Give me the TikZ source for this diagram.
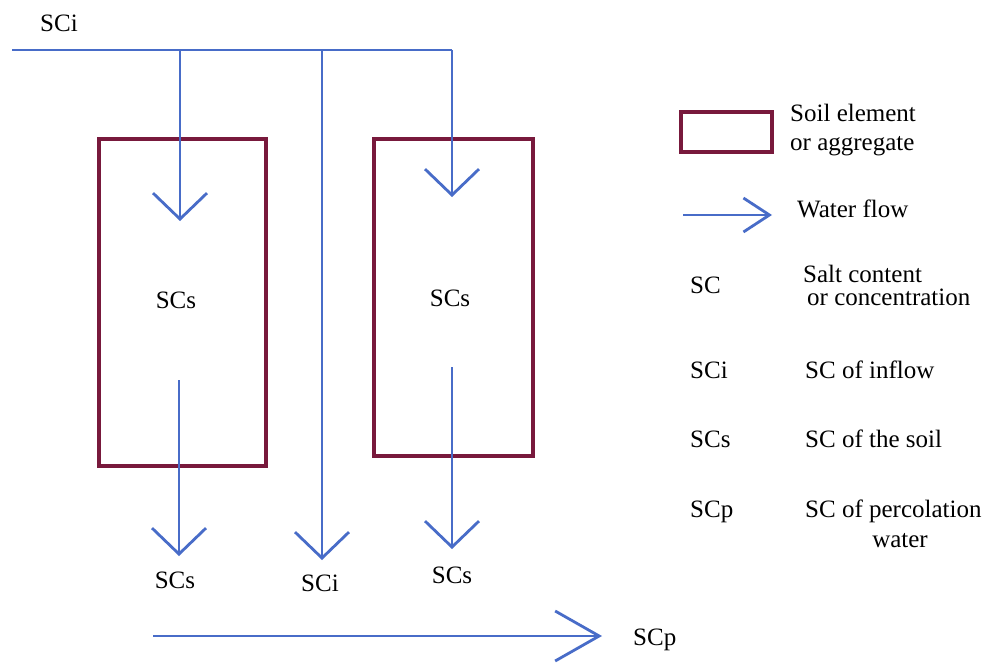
\documentclass[tikz,border=0pt]{standalone}
\usepackage{fontspec}
\setmainfont{Liberation Serif}
\newfontfamily\timesfont{Liberation Serif}
\usetikzlibrary{arrows.meta}
\definecolor{flow}{RGB}{72,108,200}
\definecolor{soil}{RGB}{120,25,60}
\begin{document}
\begin{tikzpicture}[x=1pt,y=-1pt,
  lbl/.style={font=\timesfont\fontsize{25}{30}\selectfont, inner sep=0pt, anchor=base},
  lbll/.style={lbl, anchor=base west},
  flowline/.style={draw=flow, line width=2.8pt},
  flowarrow/.style={flowline, -{Straight Barb[length=26pt,width=54pt]}},
  soilbox/.style={draw=soil, line width=3.2pt, inner sep=0pt}]
\useasboundingbox[fill=white] (0,0) rectangle (991,666);

% soil boxes
\node[soilbox, minimum width=167pt, minimum height=327pt] (boxL) at (182.5,302.5) {};
\node[soilbox, minimum width=159pt, minimum height=317pt] (boxR) at (453.5,297.5) {};

% coordinates of the flow network
\coordinate (in) at (12,50);
\coordinate (jA) at (180,50);
\coordinate (jB) at (322,50);
\coordinate (jC) at (452,50);
\coordinate (tA) at (180,221);
\coordinate (tC) at (452,197);
\coordinate (tB) at (322,560);
\coordinate (sL) at (179,380);
\coordinate (eL) at (179,556);
\coordinate (sR) at (452,367);
\coordinate (eR) at (452,549);
\coordinate (pS) at (153,636);
\coordinate (pE) at (602,636);

% flows
\draw[flowline] (in) -- (jC);
\draw[flowarrow] (jA) -- (tA);
\draw[flowarrow] (jB) -- (tB);
\draw[flowarrow] (jC) -- (tC);
\draw[flowarrow] (sL) -- (eL);
\draw[flowarrow] (sR) -- (eR);
\draw[flowline, -{Straight Barb[length=44pt,width=50pt]}] (pS) -- (pE);

% labels
\node[lbl] (lSCi) at (59,32) {SCi};
\node[lbl] (lSsL) at (176,308) {SCs};
\node[lbl] (lSsR) at (450,306) {SCs};
\node[lbl] (bSsL) at (175,588) {SCs};
\node[lbl] (bSCi) at (320,591) {SCi};
\node[lbl] (bSsR) at (452,583) {SCs};
\node[lbll] (lSCp) at (633,645) {SCp};

% legend
\node[soilbox, minimum width=91pt, minimum height=40pt] (legBox) at (726.5,132) {};
\node[lbll] (legSoil1) at (790,122) {Soil element};
\node[lbll] (legSoil2) at (790,150) {or aggregate};
\coordinate (legA) at (683,215);
\coordinate (legB) at (772,215);
\draw[flowline, -{Straight Barb[length=26pt,width=34pt]}] (legA) -- (legB);
\node[lbll] (legFlow) at (797,218) {Water flow};

\node[lbll] (kSC) at (690,293) {SC};
\node[lbll] (dSC1) at (803,282) {Salt content};
\node[lbll] (dSC2) at (807,305) {or concentration};
\node[lbll] (kSCi) at (690,378) {SCi};
\node[lbll] (dSCi) at (805,378) {SC of inflow};
\node[lbll] (kSCs) at (690,447) {SCs};
\node[lbll] (dSCs) at (805,447) {SC of the soil};
\node[lbll] (kSCp) at (690,517) {SCp};
\node[lbll] (dSCp1) at (805,517) {SC of percolation};
\node[lbl] (dSCp2) at (900,547) {water};
\end{tikzpicture}
\end{document}
